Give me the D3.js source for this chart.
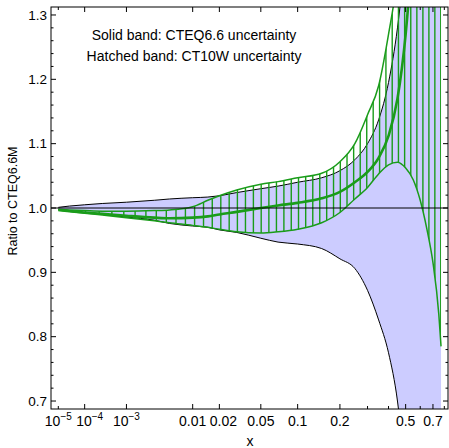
<!DOCTYPE html>
<html>
<head>
<meta charset="utf-8">
<script src="https://cdn.jsdelivr.net/npm/d3@7"></script>
<style>
  body { margin: 0; background: #fff; }
  text { font-family: "Liberation Sans", Arial, sans-serif; fill: #000; }
</style>
</head>
<body>
<script>
// Define constants
const width = 449
const height = 448
const margin = {top: 7, right: 1, bottom: 39, left: 51}
const innerwidth = width - margin.left - margin.right
const innerheight = height - margin.top - margin.bottom

// Data
const xs      = [1e-5, 3e-5, 1e-4, 3e-4, 1e-3, 3e-3, 0.005, 0.01, 0.015, 0.02, 0.03, 0.05, 0.07, 0.1, 0.15, 0.2, 0.25, 0.3, 0.35, 0.4, 0.45, 0.5, 0.55, 0.6, 0.65, 0.7, 0.75, 0.77]
const cteqHi  = [1.001, 1.003, 1.005, 1.007, 1.009, 1.012, 1.014, 1.016, 1.017, 1.019, 1.024, 1.030, 1.034, 1.040, 1.047, 1.058, 1.075, 1.100, 1.137, 1.195, 1.28, 1.40, 1.55, 1.7, 1.9, 2.1, 2.3, 2.4]
const cteqLo  = [0.998, 0.996, 0.993, 0.990, 0.986, 0.981, 0.976, 0.972, 0.970, 0.966, 0.962, 0.953, 0.947, 0.944, 0.937, 0.921, 0.906, 0.872, 0.826, 0.775, 0.700, 0.58, 0.48, 0.38, 0.3, 0.2, 0.1, 0.05]
const ct10Hi  = [0.998, 0.997, 0.996, 0.995, 0.995, 0.996, 0.997, 1.002, 1.012, 1.019, 1.028, 1.037, 1.041, 1.047, 1.054, 1.072, 1.100, 1.145, 1.19, 1.27, 1.36, 1.5, 1.7, 1.9, 2.1, 2.3, 2.5, 2.6]
const ct10Mid = [0.997, 0.995, 0.993, 0.991, 0.988, 0.985, 0.984, 0.985, 0.987, 0.990, 0.994, 1.000, 1.004, 1.008, 1.015, 1.025, 1.040, 1.056, 1.078, 1.112, 1.17, 1.27, 1.42, 1.6, 1.8, 2.0, 2.2, 2.3]
const ct10Lo  = [0.997, 0.995, 0.992, 0.989, 0.985, 0.980, 0.977, 0.973, 0.970, 0.967, 0.963, 0.961, 0.963, 0.967, 0.977, 0.993, 1.014, 1.032, 1.053, 1.067, 1.071, 1.062, 1.044, 1.012, 0.968, 0.915, 0.835, 0.785]

const xTicks = [1e-5, 1e-4, 1e-3, 0.01, 0.02, 0.05, 0.1, 0.2, 0.5, 0.7]
const xTickLabels = ["10|-5", "10|-4", "10|-3", "0.01", "0.02", "0.05", "0.1", "0.2", "0.5", "0.7"]
const xMinor = [0.3, 0.4, 0.6, 0.8]
const yTicks = [0.7, 0.8, 0.9, 1.0, 1.1, 1.2, 1.3]
const yTickLabels = ["0.7", "0.8", "0.9", "1.0", "1.1", "1.2", "1.3"]
const legendLines = ["Solid band: CTEQ6.6 uncertainty", "Hatched band: CT10W uncertainty"]

// labels that Mathematica pushed aside to avoid overlap
const labelNudge = {"10|-4": 5, "0.02": 4}

const blue = "#ccccff"
const green = "#1a9c1a"

const svg = d3.select("body").append("svg")
    .attr("width", width)
    .attr("height", height)

const g = svg.append("g")
    .attr("transform", `translate(${margin.left},${margin.top})`)

// scales: x axis is x^0.2
const xScale = d3.scalePow().exponent(0.2)
    .domain([4.135e-6, 0.8347])
    .range([0, innerwidth])

const yScale = d3.scaleLinear()
    .domain([0.6876, 1.3124])
    .range([innerheight, 0])

const rows = xs.map((x, i) => ({x: x, cHi: cteqHi[i], cLo: cteqLo[i], tHi: ct10Hi[i], tMid: ct10Mid[i], tLo: ct10Lo[i]}))

// clip to frame
svg.append("defs").append("clipPath").attr("id", "plotclip")
    .append("rect").attr("width", innerwidth).attr("height", innerheight)

const plot = g.append("g").attr("clip-path", "url(#plotclip)")

const curve = d3.curveMonotoneX

// solid band
plot.append("path").datum(rows)
    .attr("fill", blue)
    .attr("d", d3.area().curve(curve)
        .x(d => xScale(d.x)).y0(d => yScale(d.cLo)).y1(d => yScale(d.cHi)))

const lineOf = key => d3.line().curve(curve).x(d => xScale(d.x)).y(d => yScale(d[key]))

plot.append("path").datum(rows)
    .attr("fill", "none").attr("stroke", "#000").attr("stroke-width", 1)
    .attr("d", lineOf("cHi"))
plot.append("path").datum(rows)
    .attr("fill", "none").attr("stroke", "#000").attr("stroke-width", 1)
    .attr("d", lineOf("cLo"))

// hatched band: vertical lines clipped by the band area
const ct10Area = d3.area().curve(curve)
    .x(d => xScale(d.x)).y0(d => yScale(d.tLo)).y1(d => yScale(d.tHi))
svg.select("defs").append("clipPath").attr("id", "hatchclip")
    .append("path").datum(rows).attr("d", ct10Area)

// hatch spacing is even in x^0.3
const hatchV = d3.range(-14, 33).map(k => 0.3125 + k * 0.0191)
const hatchX = hatchV.map(v => Math.pow(v, 1 / 0.3))

plot.append("g").attr("clip-path", "url(#hatchclip)")
    .selectAll("line").data(hatchX)
    .enter().append("line")
    .attr("x1", d => xScale(d)).attr("x2", d => xScale(d))
    .attr("y1", 0).attr("y2", innerheight)
    .attr("stroke", green).attr("stroke-width", 1.4)

plot.append("path").datum(rows)
    .attr("fill", "none").attr("stroke", green).attr("stroke-width", 1.5)
    .attr("d", lineOf("tHi"))
plot.append("path").datum(rows)
    .attr("fill", "none").attr("stroke", green).attr("stroke-width", 1.5)
    .attr("d", lineOf("tLo"))
plot.append("path").datum(rows)
    .attr("fill", "none").attr("stroke", green).attr("stroke-width", 2.6)
    .attr("d", lineOf("tMid"))

// ratio = 1 line
plot.append("line")
    .attr("x1", 0).attr("x2", innerwidth)
    .attr("y1", yScale(1)).attr("y2", yScale(1))
    .attr("stroke", "#000").attr("stroke-width", 1)

// frame
g.append("rect")
    .attr("width", innerwidth).attr("height", innerheight)
    .attr("fill", "none").attr("stroke", "#000").attr("stroke-width", 1)

// x ticks (bottom and top, pointing in)
const xMajor = xTicks.map((t, i) => ({v: t, len: i === 0 ? 3 : 5}))
    .concat(xMinor.map(t => ({v: t, len: 3})))
g.selectAll(".xtick-b").data(xMajor).enter().append("line")
    .attr("x1", d => xScale(d.v)).attr("x2", d => xScale(d.v))
    .attr("y1", innerheight).attr("y2", d => innerheight - d.len)
    .attr("stroke", "#000")
g.selectAll(".xtick-t").data(xMajor).enter().append("line")
    .attr("x1", d => xScale(d.v)).attr("x2", d => xScale(d.v))
    .attr("y1", 0).attr("y2", d => d.len)
    .attr("stroke", "#000")

// x tick labels
const xl = g.selectAll(".xlabel").data(xTicks).enter().append("text")
    .attr("x", (d, i) => xScale(d) + (labelNudge[xTickLabels[i]] || 0))
    .attr("y", innerheight + 17)
    .attr("text-anchor", "middle")
    .style("font-size", "14px")
xl.each(function(d, i) {
    const parts = xTickLabels[i].split("|")
    const t = d3.select(this)
    t.append("tspan").text(parts[0])
    if (parts[1]) {
        t.append("tspan").attr("dy", -6).style("font-size", "10px").text("\u2212" + parts[1].slice(1))
    }
})

// y ticks (left and right)
const yMinor = d3.range(0, 32).map(k => 0.7 + k * 0.02).filter(v => v <= 1.31)
g.selectAll(".ytick").data(yMinor).enter().append("line")
    .attr("x1", 0).attr("x2", (d, i) => i % 5 === 0 ? 5 : 2.5)
    .attr("y1", d => yScale(d)).attr("y2", d => yScale(d))
    .attr("stroke", "#000")
g.selectAll(".ytick-r").data(yMinor).enter().append("line")
    .attr("x1", innerwidth).attr("x2", (d, i) => innerwidth - (i % 5 === 0 ? 5 : 2.5))
    .attr("y1", d => yScale(d)).attr("y2", d => yScale(d))
    .attr("stroke", "#000")

g.selectAll(".ylabel").data(yTicks).enter().append("text")
    .attr("x", -4)
    .attr("y", d => yScale(d))
    .attr("dy", "0.35em")
    .attr("text-anchor", "end")
    .style("font-size", "13.5px")
    .text((d, i) => yTickLabels[i])

// axis labels
svg.append("text")
    .attr("x", 250).attr("y", 446)
    .attr("text-anchor", "middle")
    .style("font-size", "14px")
    .text("x")

svg.append("text")
    .attr("transform", "translate(17,201) rotate(-90)")
    .attr("text-anchor", "middle")
    .style("font-size", "12.5px")
    .text("Ratio to CTEQ6.6M")

// legend text
svg.selectAll(".legend").data(legendLines).enter().append("text")
    .attr("x", 194)
    .attr("y", (d, i) => 40 + i * 21)
    .attr("text-anchor", "middle")
    .style("font-size", "14px")
    .text(d => d)
</script>
</body>
</html>
